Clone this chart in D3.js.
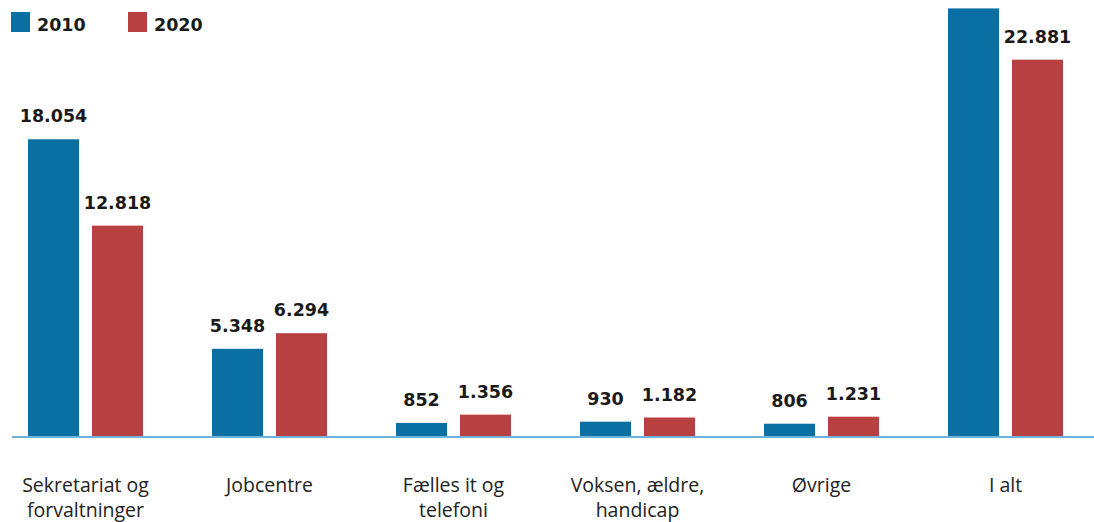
<!DOCTYPE html>
<html>
<head>
<meta charset="utf-8">
<script src="https://cdn.jsdelivr.net/npm/d3@7"></script>
<style>
  html, body { margin: 0; padding: 0; background: #fff; }
  svg { display: block; }
</style>
</head>
<body>
<div id="chart"></div>
<script>
// Data
const categories = [
  ["Sekretariat og", "forvaltninger"],
  ["Jobcentre"],
  ["Fælles it og", "telefoni"],
  ["Voksen, ældre,", "handicap"],
  ["Øvrige"],
  ["I alt"]
];
const series = ["2010", "2020"];
const values2010 = [18054, 5348, 852, 930, 806, 25990];
const values2020 = [12818, 6294, 1356, 1182, 1231, 22881];
const colors = ["#0a6fa3", "#b84041"];

const width = 1094, height = 522;
const baseline = 437;

const svg = d3.select("#chart").append("svg")
  .attr("width", width)
  .attr("height", height);

const catKeys = categories.map(c => c.join(" "));

// Scales
const x0 = d3.scaleBand().domain(catKeys).range([-6.5, 1097.5]);
const x1 = d3.scaleBand().domain(series).range([-57.5, 57.5]).paddingInner(0.203);
const y = d3.scaleLinear().domain([0, 26500]).range([baseline, 0]);

const data = catKeys.map((k, i) => ({
  key: k,
  lines: categories[i],
  vals: [values2010[i], values2020[i]]
}));

const fmt = v => d3.format(",")(v).replace(/,/g, ".");

const groups = svg.selectAll("g.group")
  .data(data)
  .join("g")
  .attr("class", "group")
  .attr("transform", d => `translate(${x0(d.key) + x0.bandwidth() / 2},0)`);

const bars = groups.selectAll("g.bar")
  .data(d => series.map((s, j) => ({ s, v: d.vals[j], j })))
  .join("g")
  .attr("class", "bar");

bars.append("rect")
  .attr("x", d => x1(d.s))
  .attr("y", d => y(d.v))
  .attr("width", x1.bandwidth())
  .attr("height", d => baseline - y(d.v))
  .attr("fill", d => colors[d.j]);

// value labels (the top one is cropped off in the original)
bars.filter(d => y(d.v) - 17 > 14)
  .append("text")
  .attr("x", d => x1(d.s) + x1.bandwidth() / 2)
  .attr("y", d => y(d.v) - 17)
  .attr("text-anchor", "middle")
  .style("font-family", "'DejaVu Sans', sans-serif")
  .style("font-weight", "bold")
  .style("font-size", "17.5px")
  .attr("fill", "#1a1a1a")
  .text(d => fmt(d.v));

// baseline
svg.append("line")
  .attr("x1", 12).attr("x2", width)
  .attr("y1", baseline).attr("y2", baseline)
  .attr("stroke", "#6fb3d9")
  .attr("stroke-width", 2);

// category labels
groups.append("text")
  .attr("text-anchor", "middle")
  .style("font-family", "'Open Sans', sans-serif")
  .style("font-size", "19.5px")
  .attr("fill", "#222")
  .selectAll("tspan")
  .data(d => d.lines)
  .join("tspan")
  .attr("x", 0)
  .attr("y", (d, i) => 492 + i * 25)
  .text(d => d);

// legend
const legend = svg.append("g");
const legendX = [11, 128];
series.forEach((s, i) => {
  legend.append("rect")
    .attr("x", legendX[i]).attr("y", 12)
    .attr("width", 19).attr("height", 20)
    .attr("fill", colors[i]);
  legend.append("text")
    .attr("x", legendX[i] + 26).attr("y", 31)
    .style("font-family", "'DejaVu Sans', sans-serif")
    .style("font-weight", "bold")
    .style("font-size", "17.5px")
    .attr("fill", "#1a1a1a")
    .text(s);
});
</script>
</body>
</html>
